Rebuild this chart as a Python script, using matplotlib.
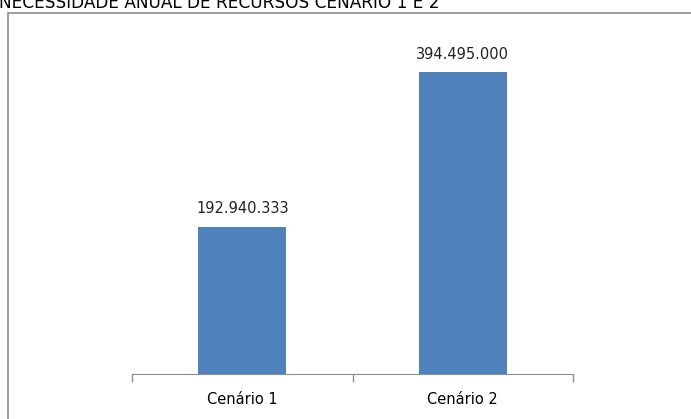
import matplotlib
matplotlib.use("Agg")
import matplotlib.pyplot as plt
from matplotlib.patches import Rectangle

titulo = "NECESSIDADE ANUAL DE RECURSOS CENÁRIO 1 E 2"
cenarios = ["Cenário 1", "Cenário 2"]
valores = [192940333, 394495000]
rotulos = ["192.940.333", "394.495.000"]

plt.rcParams['font.family'] = ['DejaVu Sans']

fig = plt.figure(figsize=(6.91, 4.19), dpi=100)

# moldura do gráfico (sai da imagem à direita e embaixo)
moldura = Rectangle((8 / 691, -0.05), 1.0, 1 - 13 / 419 + 0.05,
                    transform=fig.transFigure, fill=False,
                    edgecolor='#8c8c8c', linewidth=1.2)
fig.patches.append(moldura)

fig.text(-1 / 691, 1 - 8 / 419, titulo, fontsize=12.2, color='black',
         ha='left', va='baseline')

ax = fig.add_axes([132 / 691, 1 - 374 / 419, 441 / 691, 344 / 419])
x = range(len(cenarios))
barras = ax.bar(x, valores, width=0.4, color='#4F81BD')
for b, r in zip(barras, rotulos):
    ax.text(b.get_x() + b.get_width() / 2, b.get_height() + 14e6, r,
            ha='center', va='bottom', fontsize=10.5, color='#222222')

ax.set_xlim(-0.5, 1.5)
ax.set_ylim(0, 450e6)
ax.set_xticks([-0.5, 0.5, 1.5], minor=False)
ax.set_xticklabels([])
ax.set_xticks(list(x), minor=True)
ax.set_xticklabels(cenarios, minor=True, fontsize=10.5)
ax.tick_params(axis='x', which='major', length=6, color='#8c8c8c', width=1)
ax.tick_params(axis='x', which='minor', length=0, pad=13)
ax.set_yticks([])
for s in ['top', 'right', 'left']:
    ax.spines[s].set_visible(False)
ax.spines['bottom'].set_color('#8c8c8c')

fig.savefig('out.png', dpi=100)
